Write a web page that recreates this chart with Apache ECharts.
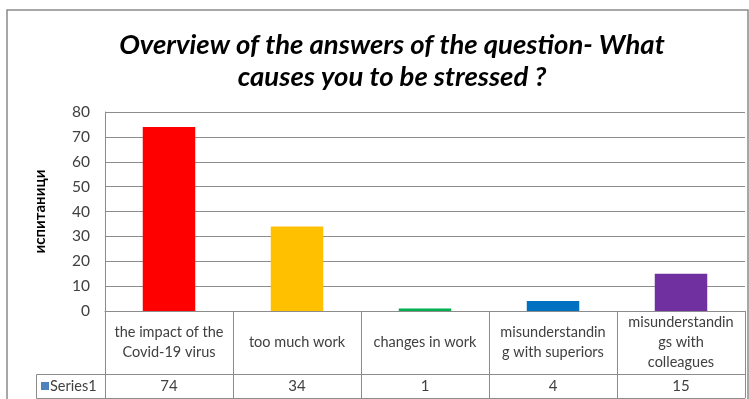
<!DOCTYPE html>
<html>
<head>
<meta charset="utf-8">
<script src="https://cdn.jsdelivr.net/npm/echarts@6/dist/echarts.min.js"></script>
<style>
  html, body { margin: 0; padding: 0; background: #fff; }
  #chart { width: 749px; height: 399px; }
</style>
</head>
<body>
<div id="chart"></div>
<script>
// Answers to "What causes you to be stressed?"
const categories = [
  'the impact of the\nCovid-19 virus',
  'too much work',
  'changes in work',
  'misunderstandin\ng with superiors',
  'misunderstandin\ngs with\ncolleagues'
];
const values = [74, 34, 1, 4, 15];
const barColors = ['#FF0000', '#FFC000', '#00B050', '#0070C0', '#7030A0'];
const seriesName = 'Series1';
const yTicks = { min: 0, max: 80, step: 10 };

const FONT = 'Lato, "Open Sans", sans-serif';
const TEXT = '#404040';
const LINE = '#8c8c8c';

const chart = echarts.init(document.getElementById('chart'), null, { renderer: 'canvas' });

chart.setOption({
  animation: false,
  backgroundColor: '#ffffff',
  title: {
    text: 'Overview of the answers of the question- What\ncauses you to be stressed ?',
    left: 387,
    top: 24,
    textAlign: 'center',
    textStyle: {
      fontFamily: FONT,
      fontSize: 27.5,
      fontWeight: 'bold',
      fontStyle: 'italic',
      color: '#000',
      lineHeight: 32
    }
  },
  grid: { left: 105, right: 4, top: 112, bottom: 88, containLabel: false },
  xAxis: [
    {
      type: 'category',
      data: categories,
      position: 'bottom',
      axisLine: { show: true, lineStyle: { color: LINE, width: 1 } },
      axisTick: { show: true, length: 87, lineStyle: { color: LINE, width: 1 } },
      axisLabel: {
        interval: 0,
        margin: 31,
        verticalAlign: 'middle',
        align: 'center',
        fontFamily: FONT,
        fontSize: 14.5,
        lineHeight: 20,
        color: TEXT
      }
    },
    {
      type: 'category',
      data: categories,
      position: 'bottom',
      offset: 63,
      axisLine: { show: true, lineStyle: { color: LINE, width: 1 } },
      axisTick: { show: false },
      axisLabel: {
        interval: 0,
        margin: 12,
        verticalAlign: 'middle',
        fontFamily: FONT,
        fontSize: 15,
        color: TEXT,
        formatter: (v, i) => String(values[i])
      }
    },
    {
      type: 'category',
      data: categories,
      position: 'bottom',
      offset: 87,
      axisLine: { show: true, lineStyle: { color: LINE, width: 1 } },
      axisTick: { show: false },
      axisLabel: { show: false }
    }
  ],
  yAxis: {
    type: 'value',
    min: yTicks.min,
    max: yTicks.max,
    interval: yTicks.step,
    name: 'испитаници',
    nameLocation: 'middle',
    nameRotate: 90,
    nameGap: 57,
    nameTextStyle: { fontFamily: FONT, fontSize: 15, fontWeight: 'bold', color: '#000' },
    axisLine: { show: true, lineStyle: { color: LINE, width: 1 } },
    axisTick: { show: false },
    axisLabel: { margin: 15, fontFamily: FONT, fontSize: 15.5, color: TEXT },
    splitLine: { show: true, lineStyle: { color: LINE, width: 1 } }
  },
  series: [{
    name: seriesName,
    type: 'bar',
    barWidth: '41%',
    data: values.map((v, i) => ({ value: v, itemStyle: { color: barColors[i] } }))
  }],
  graphic: [
    // outer chart frame
    { type: 'rect', shape: { x: 7, y: 10, width: 741, height: 400 },
      style: { fill: 'none', stroke: '#8a8a8a', lineWidth: 1.5 }, z: 100 },
    // series name cell of the data table
    { type: 'polyline', shape: { points: [[105, 374.5], [36.5, 374.5], [36.5, 398.5], [105, 398.5]] },
      style: { fill: 'none', stroke: LINE, lineWidth: 1 }, z: 50 },
    { type: 'rect', shape: { x: 41, y: 382, width: 8, height: 8 },
      style: { fill: '#4F81BD' }, z: 50 },
    { type: 'text', x: 50, y: 386,
      style: { text: seriesName, fontFamily: FONT, fontSize: 14.5, fill: TEXT, verticalAlign: 'middle', align: 'left' }, z: 50 }
  ]
});
</script>
</body>
</html>
